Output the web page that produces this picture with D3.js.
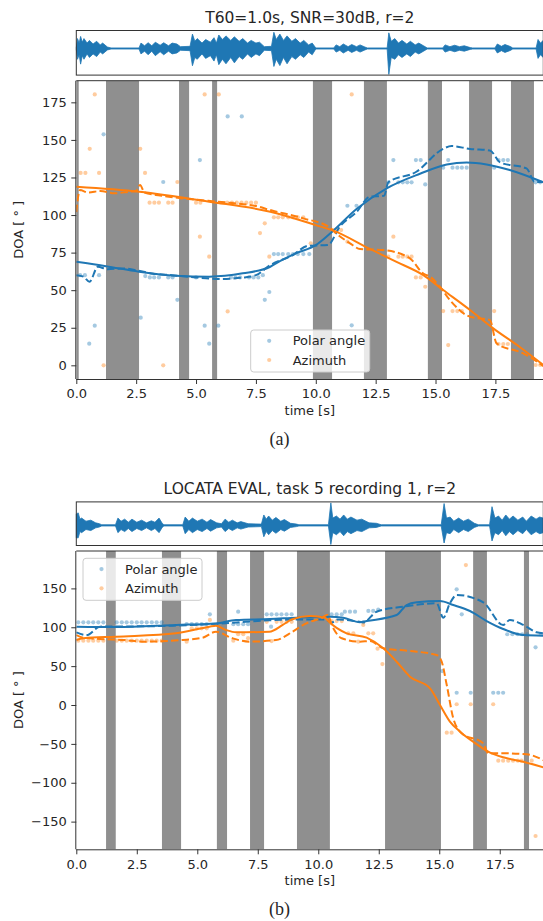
<!DOCTYPE html>
<html>
<head>
<meta charset="utf-8">
<script src="https://d3js.org/d3.v7.min.js"></script>
<style>
  body { margin: 0; background: #fff; }
  text { font-family: "DejaVu Sans", sans-serif; fill: #262626; }
</style>
</head>
<body>
<script>
// ---------- top panel (a) ----------
const titleA = "T60=1.0s, SNR=30dB, r=2";
// silent intervals [start, end] in s
const bandsA = [[0, 0.1], [1.24, 2.62], [4.29, 4.71], [5.67, 5.88], [9.88, 10.68],
  [12.01, 12.97], [14.68, 15.27], [16.4, 17.36], [18.15, 19.11]];
// waveform envelope [t, upper, lower]
const waveA = [[0, 0.05, 0.05], [0.05, 0.55, 0.6], [0.12, 0.3, 0.35], [0.18, 0.67, 0.87], [0.25, 0.35, 0.4],
  [0.32, 0.55, 0.6], [0.45, 0.3, 0.3], [0.55, 0.45, 0.5], [0.7, 0.25, 0.3], [0.85, 0.4, 0.45],
  [1.0, 0.2, 0.2], [1.1, 0.3, 0.3], [1.3, 0.08, 0.08], [1.45, 0.03, 0.03], [2.62, 0.03, 0.03],
  [2.7, 0.3, 0.3], [2.85, 0.15, 0.15], [3.0, 0.32, 0.35], [3.15, 0.15, 0.15], [3.3, 0.35, 0.4],
  [3.5, 0.18, 0.18], [3.65, 0.32, 0.35], [3.85, 0.15, 0.15], [4.0, 0.3, 0.3], [4.2, 0.25, 0.25],
  [4.35, 0.1, 0.1], [4.75, 0.12, 0.12], [4.85, 0.8, 0.96], [4.95, 0.4, 0.5], [5.05, 0.55, 0.6],
  [5.25, 0.3, 0.3], [5.4, 0.5, 0.55], [5.6, 0.35, 0.4], [5.75, 0.6, 0.7], [5.85, 0.3, 0.35],
  [5.95, 0.75, 0.9], [6.1, 0.5, 0.6], [6.25, 0.7, 0.85], [6.45, 0.45, 0.5], [6.6, 0.65, 0.8],
  [6.8, 0.4, 0.45], [6.95, 0.55, 0.6], [7.15, 0.3, 0.3], [7.3, 0.45, 0.5], [7.5, 0.3, 0.3],
  [7.65, 0.35, 0.4], [7.85, 0.1, 0.1], [8.15, 0.12, 0.12], [8.25, 0.9, 1.0], [8.35, 0.5, 0.6],
  [8.5, 0.8, 0.95], [8.65, 0.45, 0.5], [8.8, 0.7, 0.85], [9.0, 0.4, 0.45], [9.15, 0.55, 0.6],
  [9.35, 0.3, 0.35], [9.5, 0.45, 0.5], [9.7, 0.2, 0.2], [9.85, 0.3, 0.35], [10.0, 0.03, 0.03],
  [10.75, 0.03, 0.03], [10.85, 0.2, 0.2], [11.0, 0.1, 0.1], [11.15, 0.25, 0.25], [11.35, 0.1, 0.1],
  [11.5, 0.22, 0.22], [11.7, 0.1, 0.1], [11.85, 0.2, 0.2], [12.05, 0.08, 0.08], [12.15, 0.03, 0.03],
  [12.98, 0.03, 0.03], [13.05, 0.87, 1.44], [13.15, 0.4, 0.5], [13.3, 0.55, 0.6], [13.45, 0.3, 0.35],
  [13.6, 0.45, 0.5], [13.8, 0.25, 0.3], [13.95, 0.4, 0.45], [14.15, 0.2, 0.2], [14.3, 0.3, 0.3],
  [14.5, 0.15, 0.15], [14.65, 0.03, 0.03], [15.3, 0.03, 0.03], [15.4, 0.2, 0.2], [15.6, 0.1, 0.1],
  [15.8, 0.18, 0.18], [16.0, 0.1, 0.1], [16.2, 0.15, 0.15], [16.45, 0.05, 0.05], [16.55, 0.03, 0.03],
  [17.48, 0.03, 0.03], [17.58, 0.25, 0.25], [17.75, 0.12, 0.12], [17.9, 0.22, 0.22], [18.1, 0.12, 0.12],
  [18.2, 0.05, 0.05], [18.22, 0.03, 0.03], [19.2, 0.03, 0.03], [19.28, 0.5, 0.55], [19.38, 0.3, 0.35],
  [19.5, 0.45, 0.5]];
const polarA = [[0, 68.9], [1.24, 66], [2.62, 62.3], [4.16, 59.6], [5.55, 59], [6.95, 61.2], [8.1, 65.6],
  [8.34, 67.9], [9.17, 74.5], [10, 80], [10.73, 89.6], [11.7, 104], [12.96, 117.8], [14.35, 127.5],
  [15.47, 133.7], [16.3, 135], [17.13, 133.7], [18.1, 130], [19.5, 121.8]];
const polarEstA = [[0, 60], [0.3, 59], [0.55, 55.6], [0.9, 65.6], [1.3, 64], [2.0, 64.5], [2.6, 63],
  [3.2, 61], [4.0, 60], [5.0, 58.5], [6.0, 57.5], [7.0, 58.5], [7.5, 60], [8.1, 66.7], [9.0, 73],
  [9.7, 79.6], [10.5, 80], [11.0, 92.2], [11.7, 102], [12.26, 112.2], [12.85, 112.8], [13.03, 121.8],
  [14.2, 128.8], [15.3, 143.9], [15.67, 145.9], [16.44, 144], [17.27, 143], [17.7, 135], [18.8, 131],
  [19.15, 122], [19.5, 122]];
const azimA = [[0, 118.8], [2.63, 115.5], [5.55, 108.9], [8.1, 102.2], [10, 93.3], [10.73, 89.6],
  [12.26, 77.5], [13.35, 69], [14.49, 60], [15.32, 50.1], [16.44, 36.8], [17.41, 24.6], [18.53, 12],
  [19.5, 0.2]];
const azimEstA = [[0, 102], [0.15, 116.6], [0.5, 115], [1.0, 116], [1.6, 114.5], [2.2, 115.5], [2.5, 116],
  [2.66, 120], [2.85, 115], [3.5, 113], [4.5, 111], [5.5, 109.5], [6.5, 108], [7.5, 106], [8.1, 103.3],
  [9.48, 97.8], [10.6, 91.6], [10.7, 90], [11.43, 81.2], [11.85, 77.4], [12.82, 76.7], [13.93, 71.2],
  [14.49, 61], [14.77, 59], [15.18, 52.3], [15.6, 43.4], [16.44, 32.3], [17.27, 30.1], [17.55, 14.6],
  [18.66, 8], [19.5, -0.5]];
const polarDotsA = [[0.16, 60], [0.36, 60], [0.54, 14.4], [0.77, 26.4], [0.95, 60], [1.14, 153.7],
  [2.69, 31.7], [2.88, 59.4], [3.07, 58.5], [3.25, 58.5], [3.45, 58.5], [3.63, 122], [3.84, 58.5],
  [4.02, 58.5], [4.22, 43.6], [5.0, 58.5], [5.16, 136.6], [5.36, 26.4], [5.55, 14.4], [5.93, 26.4],
  [6.32, 165.6], [6.46, 58.5], [6.65, 58.5], [6.84, 58.5], [6.91, 165.6], [7.21, 58.5], [7.4, 58.5],
  [7.6, 58.5], [7.79, 60], [7.87, 43.6], [8.06, 48.8], [8.25, 74], [8.43, 74], [8.62, 74], [8.85, 74],
  [9.05, 74], [9.25, 74], [9.48, 74], [9.73, 74], [11.32, 106.2], [11.5, 26.6], [11.7, 106.2],
  [13.03, 121.8], [13.24, 136.6], [13.45, 121.8], [13.63, 121.8], [13.82, 121.8], [14.0, 121.8],
  [14.18, 136.6], [14.38, 136.6], [14.57, 120.4], [15.32, 131.5], [15.53, 136.6], [15.71, 131.5],
  [15.91, 131.5], [16.1, 131.5], [16.3, 131.5], [17.45, 131.5], [17.63, 136.6], [17.83, 136.6],
  [18.02, 136.6], [19.18, 121.8], [19.37, 121.8]];
const azimDotsA = [[0.18, 128], [0.38, 128], [0.56, 144.1], [0.77, 180.3], [0.95, 128], [1.14, 0],
  [2.67, 144.1], [2.87, 128], [3.06, 108.2], [3.26, 108.2], [3.45, 108.2], [3.63, 0], [3.84, 108.2],
  [4.02, 108.2], [4.22, 122], [5.0, 108.2], [5.16, 85.6], [5.18, 108.2], [5.36, 180.3], [5.55, 72.3],
  [5.95, 180.3], [6.3, 108.2], [6.32, 35.9], [6.5, 108.2], [6.7, 108.2], [6.9, 108.2], [7.1, 108.2],
  [7.3, 108.2], [7.5, 108.2], [7.67, 88], [7.87, 94.5], [8.06, 72.3], [8.25, 98.5], [8.43, 98.5],
  [8.62, 98.5], [8.85, 98.5], [9.05, 98.5], [9.25, 98.5], [9.48, 98.5], [9.79, 81.2], [10.73, 90],
  [10.9, 90], [11.06, 90], [11.32, 82.3], [11.5, 180.3], [13.03, 72.3], [13.24, 85.6], [13.45, 72.3],
  [13.63, 72.3], [13.82, 72.3], [14.0, 72.3], [14.18, 58.5], [14.38, 58.5], [14.57, 52.3],
  [15.32, 36.1], [15.53, 13.5], [15.71, 36.1], [15.91, 36.1], [16.1, 36.1], [17.45, 36.1],
  [17.63, 14.2], [17.83, 14.2], [18.02, 14.2], [19.18, 0.2], [19.37, 0.2]];

// ---------- bottom panel (b) ----------
const titleB = "LOCATA EVAL, task 5 recording 1, r=2";
const bandsB = [[1.23, 1.63], [3.54, 4.33], [5.81, 6.23], [7.18, 7.76], [9.12, 10.48],
  [12.76, 15.07], [16.4, 16.97], [18.5, 18.71]];
const waveB = [[0, 0.55, 0.6], [0.08, 0.6, 0.6], [0.15, 0.3, 0.3], [0.22, 0.35, 0.35], [0.4, 0.2, 0.2],
  [0.6, 0.25, 0.25], [0.8, 0.12, 0.12], [0.95, 0.08, 0.08], [1.05, 0.03, 0.03], [1.62, 0.03, 0.03],
  [1.72, 0.35, 0.35], [1.85, 0.2, 0.2], [2.0, 0.3, 0.3], [2.15, 0.15, 0.15], [2.3, 0.3, 0.3],
  [2.5, 0.15, 0.15], [2.7, 0.25, 0.25], [2.9, 0.12, 0.12], [3.1, 0.22, 0.25], [3.25, 0.15, 0.15],
  [3.42, 0.35, 0.35], [3.55, 0.1, 0.1], [3.62, 0.03, 0.03], [4.4, 0.03, 0.03], [4.5, 0.4, 0.4],
  [4.65, 0.2, 0.2], [4.8, 0.35, 0.35], [5.0, 0.2, 0.2], [5.2, 0.3, 0.3], [5.4, 0.15, 0.15],
  [5.55, 0.28, 0.28], [5.8, 0.12, 0.12], [6.0, 0.08, 0.08], [6.15, 0.3, 0.3], [6.3, 0.15, 0.15],
  [6.45, 0.25, 0.25], [6.65, 0.12, 0.12], [6.8, 0.18, 0.18], [7.1, 0.08, 0.08], [7.65, 0.06, 0.06],
  [7.75, 0.5, 0.55], [7.85, 0.3, 0.3], [7.95, 0.45, 0.45], [8.1, 0.25, 0.25], [8.25, 0.38, 0.38],
  [8.45, 0.2, 0.2], [8.6, 0.28, 0.28], [8.85, 0.1, 0.1], [9.1, 0.06, 0.06], [9.2, 0.03, 0.03],
  [10.42, 0.03, 0.03], [10.52, 1.08, 0.92], [10.6, 0.35, 0.35], [10.75, 0.45, 0.45], [10.9, 0.3, 0.3],
  [11.05, 0.5, 0.5], [11.2, 0.3, 0.3], [11.35, 0.4, 0.4], [11.6, 0.25, 0.25], [11.8, 0.3, 0.3],
  [12.1, 0.12, 0.12], [12.4, 0.1, 0.1], [12.6, 0.03, 0.03], [15.08, 0.03, 0.03], [15.2, 1.05, 0.85],
  [15.3, 0.35, 0.35], [15.45, 0.4, 0.4], [15.6, 0.2, 0.2], [15.8, 0.35, 0.35], [16.0, 0.2, 0.2],
  [16.2, 0.3, 0.3], [16.45, 0.1, 0.1], [16.62, 0.03, 0.03], [17.08, 0.03, 0.03], [17.18, 0.9, 0.75],
  [17.3, 0.35, 0.35], [17.45, 0.45, 0.45], [17.6, 0.25, 0.25], [17.75, 0.5, 0.5], [17.9, 0.3, 0.3],
  [18.05, 0.45, 0.45], [18.25, 0.25, 0.25], [18.45, 0.4, 0.4], [18.6, 0.2, 0.2], [18.8, 0.45, 0.45],
  [19.0, 0.3, 0.3], [19.15, 0.4, 0.4], [19.3, 0.35, 0.35]];
const polarB = [[0, 100.8], [1.64, 100.3], [4.12, 103], [5.77, 105], [6.6, 109.4], [8.0, 110.6],
  [9.1, 112.3], [10.48, 113.6], [11.03, 112.3], [11.72, 106.4], [12.0, 108], [13.24, 115.8],
  [13.65, 128.6], [14.07, 132.1], [15.03, 133.8], [15.58, 128.6], [16.27, 120.9], [16.96, 108],
  [17.64, 97.8], [18.47, 90], [19.3, 89.2]];
const polarEstB = [[0, 93.5], [0.43, 90], [0.98, 100.8], [2, 101], [4, 102], [5.5, 104], [7, 107],
  [8.0, 109], [9.5, 110], [10.28, 110], [10.55, 106], [10.8, 110], [11.5, 108], [11.86, 106.4],
  [12.41, 120], [13.51, 126.5], [14.89, 130.8], [15.17, 112.3], [15.44, 130.8], [15.72, 141.5],
  [16.82, 132], [17.64, 103], [17.92, 109.4], [18.47, 103], [19.02, 93.5], [19.3, 92.2]];
const azimB = [[0, 83.6], [0.3, 85.8], [1.64, 87.9], [4.12, 92.2], [5.5, 100.8], [5.77, 102],
  [6.19, 96.5], [6.6, 93.5], [7.98, 94.3], [8.53, 103], [8.9, 110], [9.66, 114.5], [10.28, 112.3],
  [10.41, 108], [11.17, 92.2], [12.0, 86.6], [12.69, 72.9], [13.24, 55.7], [13.79, 36.4],
  [14.62, 21.4], [15.03, 0], [15.44, -21.4], [15.86, -34.3], [16.4, -47.2], [17.1, -61.3],
  [17.64, -67.3], [18.47, -72.9], [19.3, -80.2]];
const azimEstB = [[0, 90], [0.29, 86.6], [0.98, 84.9], [2, 83.6], [2.74, 81.5], [4.4, 83.6], [5.22, 86.6],
  [5.77, 94.3], [6.46, 85.8], [7.15, 81.5], [8.25, 83.6], [8.94, 94.3], [9.38, 103], [9.9, 109.4],
  [10.07, 110.6], [10.37, 115.8], [10.62, 98.7], [10.97, 85.8], [11.72, 81.5], [12.14, 82.3],
  [12.69, 72.9], [13.79, 69.5], [14.89, 64.3], [15.1, 55.7], [15.31, 25.7], [15.58, -17.2],
  [15.93, -36.4], [16.82, -49.3], [17.02, -62.1], [17.64, -62.1], [18.61, -63.4], [19.3, -70.8]];
const polarDotsB = [[0.08, 106.4], [0.29, 106.4], [0.5, 106.4], [0.7, 106.4], [0.91, 106.4], [1.12, 106.4],
  [1.67, 106.4], [1.88, 106.4], [2.08, 106.4], [2.29, 106.4], [2.5, 106.4], [2.7, 106.4], [2.91, 106.4],
  [3.12, 106.4], [3.32, 106.4], [3.53, 106.4], [4.56, 104.2], [4.77, 104.2], [4.98, 104.2],
  [5.18, 104.2], [5.39, 104.2], [5.52, 116.7], [6.49, 104], [6.69, 104], [6.69, 120], [6.9, 104],
  [7.1, 104], [7.87, 116.7], [8.05, 100.8], [8.07, 116.7], [8.28, 116.7], [8.48, 116.7], [8.69, 116.7],
  [8.9, 116.7], [10.55, 116.7], [10.76, 116.7], [10.97, 116.7], [11.1, 120], [11.31, 120], [11.52, 120],
  [11.86, 106.4], [12.07, 121], [12.27, 121], [12.48, 122.7], [15.12, 43.7], [15.72, 148.8],
  [15.93, 116.7], [15.72, 15.8], [16.3, 15.8], [17.23, 15.8], [17.44, 15.8], [17.64, 15.8],
  [17.81, 91], [18.02, 91], [18.23, 91], [18.43, 91], [18.64, 91], [18.98, 74.2], [19.2, 91]];
const azimDotsB = [[0.08, 82.7], [0.29, 82.7], [0.5, 82.7], [0.7, 82.7], [0.91, 82.7], [1.12, 82.7],
  [1.67, 82.7], [1.88, 82.7], [2.08, 82.7], [2.29, 82.7], [2.5, 82.7], [2.7, 82.7], [2.91, 82.7],
  [3.12, 82.7], [3.32, 82.7], [3.53, 82.7], [4.56, 81.5], [4.77, 98.7], [4.98, 98.7], [5.18, 98.7],
  [5.39, 98.7], [5.52, 109.4], [6.49, 82.7], [6.69, 91], [6.9, 91], [7.1, 86], [7.87, 107], [8.07, 82.3],
  [8.28, 107], [8.48, 107], [8.69, 107], [8.9, 107], [10.55, 108], [10.76, 108], [10.97, 108],
  [11.24, 92.2], [11.45, 92.2], [11.65, 81.5], [11.86, 103], [12.07, 92.2], [12.27, 92.2],
  [12.45, 72.5], [12.65, 52.7], [15.31, -35.6], [15.51, -35.6], [15.72, 1], [16.1, 180], [16.3, 1],
  [17.23, 1], [17.44, -71.6], [17.64, -71.6], [17.85, -71.6], [18.05, -71.6], [18.25, -71.6],
  [18.4, -71.6], [18.82, -71.6], [18.98, -168.5]];

const xTicks = [0, 2.5, 5, 7.5, 10, 12.5, 15, 17.5];
const yTicksA = [0, 25, 50, 75, 100, 125, 150, 175];
const yTicksB = [-150, -100, -50, 0, 50, 100, 150];
const seriesNames = ["Polar angle", "Azimuth"];

const blue = "#1f77b4", orange = "#ff7f0e", bandColor = "#8f8f8f";
const W = 543, H = 921, left = 76.3, right = 543.3;

const svg = d3.select("body").append("svg")
  .attr("width", W).attr("height", H);

function drawPanel(p, id) {
  const x = d3.scaleLinear().domain([0, p.tMax]).range([left, right]);
  const y = d3.scaleLinear().domain(p.yDomain).range([p.bottom, p.top]);
  const g = svg.append("g");

  // title
  g.append("text")
    .attr("x", (left + right) / 2).attr("y", p.titleY)
    .attr("text-anchor", "middle").style("font-size", "15.5px")
    .text(p.title);

  // waveform
  const yw = d3.scaleLinear().domain(p.waveDomain).range([p.waveBox[1], p.waveBox[0]]);
  g.append("path")
    .datum(p.wave)
    .attr("d", d3.area().x(d => x(d[0])).y0(d => yw(-d[2])).y1(d => yw(d[1])))
    .attr("fill", blue).attr("stroke", blue).attr("stroke-width", 0.8);
  g.append("rect")
    .attr("x", left).attr("y", p.waveBox[0])
    .attr("width", right - left).attr("height", p.waveBox[1] - p.waveBox[0])
    .attr("fill", "none").attr("stroke", "#333").attr("stroke-width", 1);

  // clip for plot area
  svg.append("clipPath").attr("id", "clip" + id).append("rect")
    .attr("x", left).attr("y", p.top).attr("width", right - left).attr("height", p.bottom - p.top);
  const plot = g.append("g").attr("clip-path", `url(#clip${id})`);

  plot.selectAll("rect.band").data(p.bands).enter().append("rect")
    .attr("class", "band")
    .attr("x", d => x(d[0])).attr("width", d => x(d[1]) - x(d[0]))
    .attr("y", p.top).attr("height", p.bottom - p.top)
    .attr("fill", bandColor);

  const dots = [[p.polarDots, blue], [p.azimDots, orange]];
  dots.forEach(([data, c]) => {
    plot.append("g").selectAll("circle").data(data).enter().append("circle")
      .attr("cx", d => x(d[0])).attr("cy", d => y(d[1])).attr("r", 2.1)
      .attr("fill", c).attr("fill-opacity", 0.4);
  });

  const line = d3.line().x(d => x(d[0])).y(d => y(d[1])).curve(d3.curveMonotoneX);
  const lines = [[p.polar, blue, null], [p.polarEst, blue, "7.4,3.2"],
                 [p.azim, orange, null], [p.azimEst, orange, "7.4,3.2"]];
  lines.forEach(([data, c, dash]) => {
    plot.append("path").datum(data).attr("d", line)
      .attr("fill", "none").attr("stroke", c).attr("stroke-width", 2)
      .attr("stroke-dasharray", dash);
  });

  // axes
  const ax = g.append("g").attr("transform", `translate(0,${p.bottom})`)
    .call(d3.axisBottom(x).tickValues(xTicks).tickFormat(d3.format(".1f")).tickSize(5).tickPadding(5));
  const ay = g.append("g").attr("transform", `translate(${left},0)`)
    .call(d3.axisLeft(y).tickValues(p.yTicks).tickFormat(d3.format("d")).tickSize(5).tickPadding(4.5));
  [ax, ay].forEach(a => {
    a.selectAll("text").style("font-size", "13px").style("font-family", "DejaVu Sans").attr("fill", "#262626");
    a.selectAll("line").attr("stroke", "#333");
    a.select(".domain").attr("stroke", "#333").attr("d",
      a === ax ? `M${left},0.5H${right}` : `M-0.5,${p.top}V${p.bottom}`);
  });
  g.append("line").attr("x1", left).attr("x2", right).attr("y1", p.top).attr("y2", p.top)
    .attr("stroke", "#333");

  g.append("text")
    .attr("x", (left + right) / 2).attr("y", p.bottom + 35.5)
    .attr("text-anchor", "middle").style("font-size", "13px").text("time [s]");
  g.append("text")
    .attr("transform", `translate(23,${(p.top + p.bottom) / 2}) rotate(-90)`)
    .attr("text-anchor", "middle").style("font-size", "13px").text("DOA [ ° ]");

  // legend
  const lg = g.append("g").attr("transform", `translate(${p.legend[0]},${p.legend[1]})`);
  lg.append("rect").attr("width", 119).attr("height", 42).attr("rx", 3)
    .attr("fill", "#fff").attr("fill-opacity", 0.8).attr("stroke", "#ccc");
  seriesNames.forEach((name, i) => {
    lg.append("circle").attr("cx", 18.5).attr("cy", 10.8 + i * 19.2).attr("r", 2.1)
      .attr("fill", i ? orange : blue).attr("fill-opacity", 0.4);
    lg.append("text").attr("x", 42).attr("y", 10.8 + i * 19.2).attr("dy", "0.35em")
      .style("font-size", "13px").text(name);
  });

  // caption
  g.append("text")
    .attr("x", 279.5).attr("y", p.capY).attr("text-anchor", "middle")
    .style("font-family", "'Liberation Serif', serif").style("font-size", "18px")
    .attr("fill", "#000").text(p.caption);
}

drawPanel({
  title: titleA, titleY: 22.5, waveBox: [30.5, 75.1], waveDomain: [-1.48, 1.0], wave: waveA,
  tMax: 19.5, yDomain: [-9.1, 189.4], top: 80.7, bottom: 379, yTicks: yTicksA,
  bands: bandsA, polar: polarA, polarEst: polarEstA, azim: azimA, azimEst: azimEstA,
  polarDots: polarDotsA, azimDots: azimDotsA, legend: [250.7, 330], caption: "(a)", capY: 445
}, "a");

drawPanel({
  title: titleB, titleY: 493.5, waveBox: [501.9, 545.5], waveDomain: [-0.97, 1.13], wave: waveB,
  tMax: 19.3, yDomain: [-185.6, 198.1], top: 551, bottom: 849.3, yTicks: yTicksB,
  bands: bandsB, polar: polarB, polarEst: polarEstB, azim: azimB, azimEst: azimEstB,
  polarDots: polarDotsB, azimDots: azimDotsB, legend: [83, 558.3], caption: "(b)", capY: 915
}, "b");
</script>
</body>
</html>
